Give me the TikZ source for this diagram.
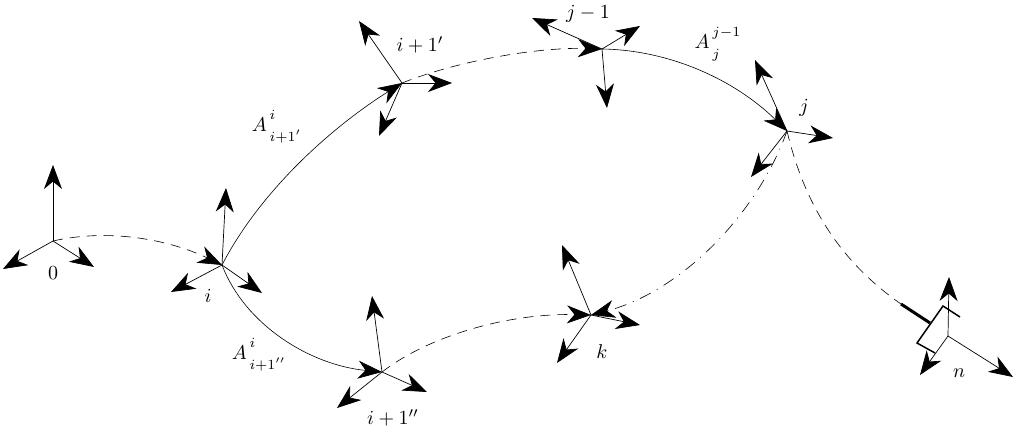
\documentclass[tikz,border=0pt]{standalone}
\usetikzlibrary{arrows.meta}
\tikzset{
  headtip/.style={-{Stealth[length=24pt,width=18pt,inset=7.5pt]}},
  axis/.style={line width=0.7pt,headtip},
  solidpath/.style={line width=0.6pt},
  dashpath/.style={line width=0.6pt,dash pattern=on 10pt off 7pt},
  dashdotpath/.style={line width=0.6pt,dash pattern=on 12pt off 7pt on 1pt off 7pt},
  lab/.style={inner sep=0pt,scale=2},
  gripper/.style={line width=1.5pt},
}
\newcommand{\frameaxes}[4]{%
  \draw[axis] (#1) -- (#2);
  \draw[axis] (#1) -- (#3);
  \draw[axis] (#1) -- (#4);}
\newcommand{\upsc}[1]{\raisebox{2.5pt}{$\scriptstyle\,#1$}}
\newcommand{\dnsc}[1]{\raisebox{-2.5pt}{$\scriptstyle\,#1$}}
\begin{document}
\begin{tikzpicture}[x=1pt,y=-1pt]
\useasboundingbox (0,0) rectangle (1021,436);
% origins
\coordinate (o0) at (53,241);
\coordinate (oi) at (222,265);
\coordinate (oa) at (402,83);
\coordinate (ob) at (602,49);
\coordinate (oj) at (787,131);
\coordinate (ok) at (591,315);
\coordinate (oc) at (382,372);
\coordinate (on) at (948,336);
% axis tips
\coordinate (o0x) at (53,165); \coordinate (o0y) at (3,269); \coordinate (o0z) at (94,267);
\coordinate (oix) at (226,188); \coordinate (oiy) at (171,292); \coordinate (oiz) at (262,293);
\coordinate (oax) at (359,21); \coordinate (oay) at (452,83); \coordinate (oaz) at (379,136);
\coordinate (obx) at (532,18); \coordinate (oby) at (640,26); \coordinate (obz) at (607,108);
\coordinate (ojx) at (755,60); \coordinate (ojy) at (833,138); \coordinate (ojz) at (751,177);
\coordinate (okx) at (562,245); \coordinate (oky) at (640,325); \coordinate (okz) at (557,363);
\coordinate (ocx) at (372,296); \coordinate (ocy) at (427,392); \coordinate (ocz) at (337,408);
\coordinate (onx) at (949,277); \coordinate (ony) at (1013,377); \coordinate (onz) at (920,375);
% frames
\frameaxes{o0}{o0x}{o0y}{o0z}
\frameaxes{oi}{oix}{oiy}{oiz}
\frameaxes{oa}{oax}{oay}{oaz}
\frameaxes{ob}{obx}{oby}{obz}
\frameaxes{oj}{ojx}{ojy}{ojz}
\frameaxes{ok}{okx}{oky}{okz}
\frameaxes{oc}{ocx}{ocy}{ocz}
\frameaxes{on}{onx}{ony}{onz}
% paths
\draw[dashpath,headtip] (o0) .. controls (110,228) and (170,240) .. (oi);
\draw[solidpath,headtip] (oi) .. controls (262,188) and (335,125) .. (oa);
\draw[dashpath,headtip] (oa) .. controls (460,60) and (540,47) .. (ob);
\draw[solidpath,headtip] (ob) .. controls (670,50) and (735,80) .. (oj);
\draw[solidpath,headtip] (oi) .. controls (245,325) and (310,365) .. (oc);
\draw[dashpath,headtip] (oc) .. controls (430,335) and (510,313) .. (ok);
\draw[dashdotpath,headtip] (oj) .. controls (757,215) and (680,292) .. (ok);
\coordinate (gb) at (901,304);
\draw[dashpath] (oj) .. controls (806,211) and (845,265) .. (gb);
% gripper
\coordinate (gm) at (930,323);
\coordinate (g1) at (960,317);
\coordinate (g2) at (943,306);
\coordinate (g3) at (917,343);
\coordinate (g4) at (935,353);
\draw[line width=3pt] (gb) -- (gm);
\draw[gripper] (g1) -- (g2) -- (g3) -- (g4);
% labels
\node[lab] (l0) at (53,273) {$0$};
\node[lab] (li) at (208,296) {$i$};
\node[lab] (la) at (420,45) {$i+1'$};
\node[lab] (lb) at (588,14) {$j-1$};
\node[lab] (lj) at (804,108) {$j$};
\node[lab] (lk) at (602,352) {$k$};
\node[lab] (ln) at (959,373) {$n$};
\node[lab] (lc) at (393,418) {$i+1''$};
\node[lab] (ma) at (277,127) {$A^{\upsc{i}}_{\dnsc{i+1'}}$};
\node[lab] (mc) at (259,355) {$A^{\upsc{i}}_{\dnsc{i+1''}}$};
\node[lab] (mb) at (718,44) {$A^{\upsc{j-1}}_{\dnsc{j}}$};
\end{tikzpicture}
\end{document}
